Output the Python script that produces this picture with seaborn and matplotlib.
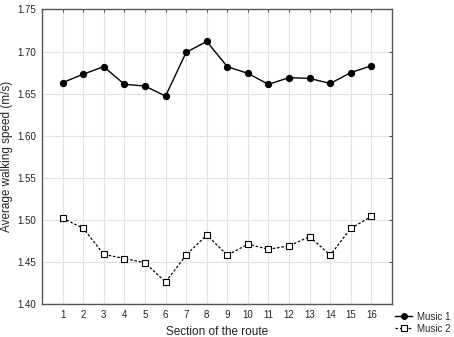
import numpy as np
import pandas as pd
import seaborn as sns
import matplotlib.pyplot as plt
from matplotlib.lines import Line2D

sections = list(range(1, 17))
music1 = [1.663, 1.673, 1.682, 1.661, 1.659, 1.647, 1.699, 1.712,
          1.682, 1.674, 1.661, 1.669, 1.668, 1.662, 1.675, 1.683]
music2 = [1.502, 1.490, 1.459, 1.454, 1.449, 1.426, 1.458, 1.482,
          1.458, 1.471, 1.465, 1.469, 1.480, 1.458, 1.490, 1.504]

df1 = pd.DataFrame({"section": sections, "speed": music1})
df2 = pd.DataFrame({"section": sections, "speed": music2})

sns.set_style("white")
plt.rcParams['font.family'] = ['Liberation Sans', 'DejaVu Sans']

fig = plt.figure(figsize=(4.54, 3.37), dpi=100)
ax = fig.add_axes([0.0925, 0.098, 0.771, 0.874])

sns.lineplot(data=df1, x="section", y="speed", ax=ax, color="black",
             linewidth=1.0, marker="o", markersize=4.5,
             markerfacecolor="black", markeredgecolor="black")
sns.lineplot(data=df2, x="section", y="speed", ax=ax, color="black",
             linewidth=0.9, linestyle=(0, (2, 1.5)), marker="s", markersize=4.5,
             markerfacecolor="white", markeredgecolor="black",
             markeredgewidth=0.8)

ax.set_xlim(0, 17)
ax.set_ylim(1.40, 1.75)
ax.set_xticks(sections)
yt = np.arange(1.40, 1.751, 0.05)
ax.set_yticks(yt)
ax.set_yticklabels([f"{v:.2f}" for v in yt])
ax.grid(True, color="#e2e2e2", linewidth=0.8)
ax.set_axisbelow(True)
for s in ax.spines.values():
    s.set_color("#555555")
    s.set_linewidth(1.0)
ax.tick_params(axis="both", direction="in", length=2.5, width=0.6,
               colors="#333333", labelsize=7, labelcolor="#222222",
               top=True, right=True, pad=4)
ax.set_xlabel("Section of the route", fontsize=8.5, color="#222222", labelpad=5)
ax.set_ylabel("Average walking speed (m/s)", fontsize=8.5, color="#222222", labelpad=3)

handles = [
    Line2D([], [], color="black", linewidth=1.0, marker="o", markersize=4),
    Line2D([], [], color="black", linewidth=0.9, linestyle=(0, (2, 1.5)),
           marker="s", markersize=4, markerfacecolor="white", markeredgewidth=0.8),
]
fig.legend(handles, ["Music 1", "Music 2"], loc="lower left",
           bbox_to_anchor=(0.862, 0.0), frameon=False, fontsize=7,
           handlelength=1.8, handletextpad=0.5, labelspacing=0.2,
           borderaxespad=0.1, borderpad=0.25)

fig.savefig("out.png", dpi=100)
